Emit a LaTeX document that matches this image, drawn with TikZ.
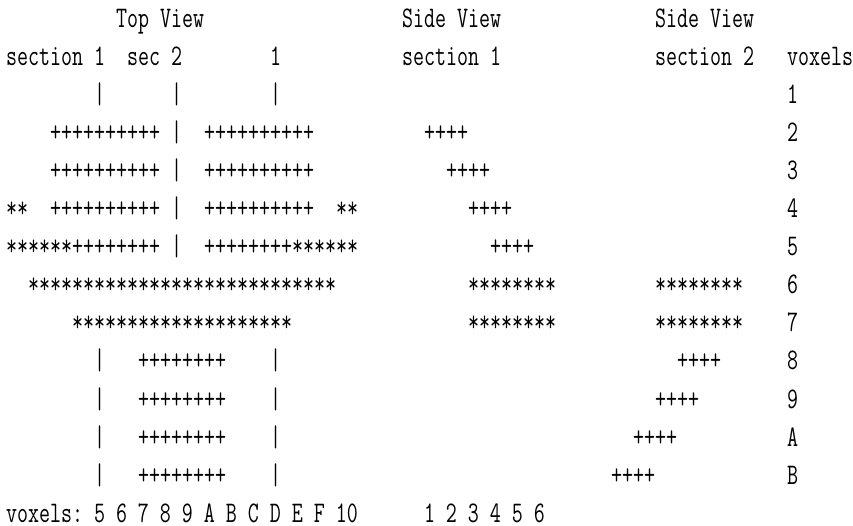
\documentclass[tikz,border=0pt]{standalone}
\usepackage{tikz}
\usepackage{graphicx}
\newlength\cwd
\settowidth\cwd{\fontsize{20}{20}\ttfamily 0}
\pgfmathsetmacro\fs{20*11/\cwd}
\newcommand\fsz{\fontsize{\fs}{\fs}\ttfamily\frenchspacing}
\newcommand\st[1]{\scalebox{1}[1.4]{#1}}
\tikzset{txt/.style={anchor=base west, inner sep=0pt, outer sep=0pt, font=\fsz}}
\begin{document}
\begin{tikzpicture}[x=11pt,y=-38.1pt]
\useasboundingbox (0pt,0pt) rectangle (853pt,-525pt);
\begin{scope}[shift={(6pt,-27pt)}]
% headers
\node[txt] (tv) at (10,0) {\st{Top View}};
\node[txt] (sv1) at (36,0) {\st{Side View}};
\node[txt] (sv2) at (59,0) {\st{Side View}};
\node[txt] (s1) at (0,1) {\st{section 1}};
\node[txt] (s2) at (11,1) {\st{sec 2}};
\node[txt] (s3) at (24,1) {\st{1}};
\node[txt] (ss1) at (36,1) {\st{section 1}};
\node[txt] (ss2) at (59,1) {\st{section 2}};
\node[txt] (vx) at (71,1) {\st{voxels}};
% row 1
\node[txt] (b1a) at (8,2) {\st{|}};
\node[txt] (b1b) at (15,2) {\st{|}};
\node[txt] (b1c) at (24,2) {\st{|}};
\node[txt] (v1) at (71,2) {\st{1}};
% row 2
\node[txt] (r2a) at (4,3) {\st{++++++++++}};
\node[txt] (r2b) at (15,3) {\st{|}};
\node[txt] (r2c) at (18,3) {\st{++++++++++}};
\node[txt] (r2d) at (38,3) {\st{++++}};
\node[txt] (v2) at (71,3) {\st{2}};
% row 3
\node[txt] (r3a) at (4,4) {\st{++++++++++}};
\node[txt] (r3b) at (15,4) {\st{|}};
\node[txt] (r3c) at (18,4) {\st{++++++++++}};
\node[txt] (r3d) at (40,4) {\st{++++}};
\node[txt] (v3) at (71,4) {\st{3}};
% row 4
\node[txt] (r4e) at (0,5) {\st{**}};
\node[txt] (r4a) at (4,5) {\st{++++++++++}};
\node[txt] (r4b) at (15,5) {\st{|}};
\node[txt] (r4c) at (18,5) {\st{++++++++++}};
\node[txt] (r4f) at (30,5) {\st{**}};
\node[txt] (r4d) at (42,5) {\st{++++}};
\node[txt] (v4) at (71,5) {\st{4}};
% row 5
\node[txt] (r5a) at (0,6) {\st{******++++++++}};
\node[txt] (r5b) at (15,6) {\st{|}};
\node[txt] (r5c) at (18,6) {\st{++++++++******}};
\node[txt] (r5d) at (44,6) {\st{++++}};
\node[txt] (v5) at (71,6) {\st{5}};
% row 6
\node[txt] (r6a) at (2,7) {\st{****************************}};
\node[txt] (r6b) at (42,7) {\st{********}};
\node[txt] (r6c) at (59,7) {\st{********}};
\node[txt] (v6) at (71,7) {\st{6}};
% row 7
\node[txt] (r7a) at (6,8) {\st{********************}};
\node[txt] (r7b) at (42,8) {\st{********}};
\node[txt] (r7c) at (59,8) {\st{********}};
\node[txt] (v7) at (71,8) {\st{7}};
% row 8
\node[txt] (r8a) at (8,9) {\st{|}};
\node[txt] (r8b) at (12,9) {\st{++++++++}};
\node[txt] (r8c) at (24,9) {\st{|}};
\node[txt] (r8d) at (61,9) {\st{++++}};
\node[txt] (v8) at (71,9) {\st{8}};
% row 9
\node[txt] (r9a) at (8,10) {\st{|}};
\node[txt] (r9b) at (12,10) {\st{++++++++}};
\node[txt] (r9c) at (24,10) {\st{|}};
\node[txt] (r9d) at (59,10) {\st{++++}};
\node[txt] (v9) at (71,10) {\st{9}};
% row A
\node[txt] (rAa) at (8,11) {\st{|}};
\node[txt] (rAb) at (12,11) {\st{++++++++}};
\node[txt] (rAc) at (24,11) {\st{|}};
\node[txt] (rAd) at (57,11) {\st{++++}};
\node[txt] (vA) at (71,11) {\st{A}};
% row B
\node[txt] (rBa) at (8,12) {\st{|}};
\node[txt] (rBb) at (12,12) {\st{++++++++}};
\node[txt] (rBc) at (24,12) {\st{|}};
\node[txt] (rBd) at (55,12) {\st{++++}};
\node[txt] (vB) at (71,12) {\st{B}};
% axes
\node[txt] (ax1) at (0,13) {\st{voxels: 5 6 7 8 9 A B C D E F 10}};
\node[txt] (ax2) at (38,13) {\st{1 2 3 4 5 6}};
\end{scope}
\end{tikzpicture}
\end{document}
